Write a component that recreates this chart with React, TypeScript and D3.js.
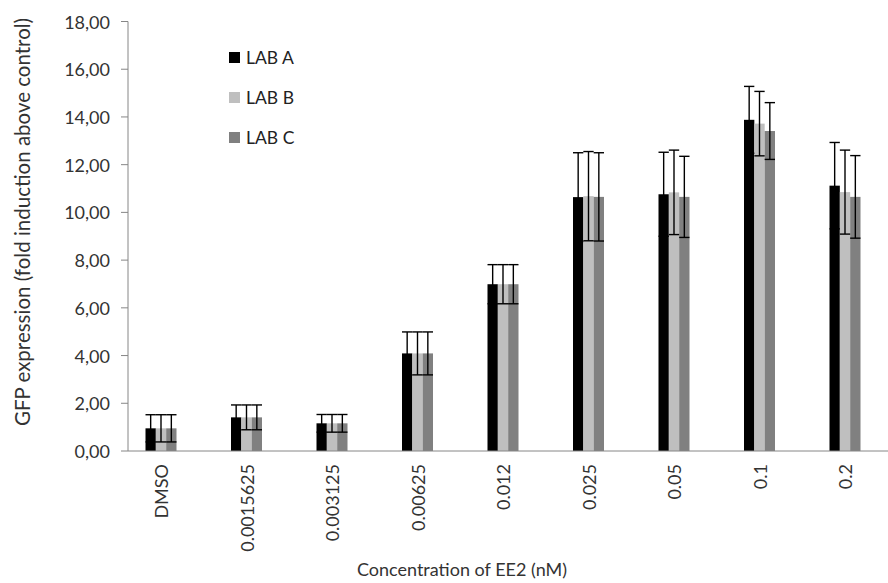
import React from "react";
import * as d3 from "d3";

// Concentrations of EE2 (nM) on the category axis
const categories = ["DMSO", "0.0015625", "0.003125", "0.00625", "0.012", "0.025", "0.05", "0.1", "0.2"];

// Mean fold induction per lab
const labA = [0.95, 1.41, 1.16, 4.09, 6.99, 10.64, 10.76, 13.88, 11.12];
const labB = [0.95, 1.41, 1.16, 4.09, 6.99, 10.68, 10.84, 13.72, 10.85];
const labC = [0.95, 1.41, 1.16, 4.09, 6.99, 10.65, 10.65, 13.41, 10.65];

// Standard deviations (symmetric error bars)
const errA = [0.57, 0.52, 0.37, 0.9, 0.82, 1.86, 1.76, 1.4, 1.81];
const errB = [0.57, 0.52, 0.37, 0.9, 0.82, 1.87, 1.77, 1.35, 1.76];
const errC = [0.57, 0.52, 0.37, 0.9, 0.82, 1.85, 1.7, 1.19, 1.73];

const seriesNames = ["LAB A", "LAB B", "LAB C"];
const seriesColors = ["#000000", "#bfbfbf", "#808080"];

const yTicks = [0, 2, 4, 6, 8, 10, 12, 14, 16, 18];

const W = 888;
const H = 583;
const axisX = 128;
const FONT = "Lato, 'Open Sans', sans-serif";

export default function App() {
  const values = [labA, labB, labC];
  const errors = [errA, errB, errC];

  const y = d3.scaleLinear().domain([0, 18]).range([451, 21.5]);
  const x = d3.scalePoint<string>().domain(categories).range([161, 845]);
  const inner = d3.scaleBand<string>().domain(seriesNames).range([-15.5, 15.5]).padding(0);
  const bw = inner.bandwidth();
  const fmt = (v: number) => d3.format(".2f")(v).replace(".", ",");

  return (
    <svg width={W} height={H} style={{ position: "absolute", left: 0, top: 0, background: "#fff" }}>
      <rect x={0} y={0} width={W} height={H} fill="#fff" />

      {/* y axis */}
      <line x1={axisX} x2={axisX} y1={y(18)} y2={y(0)} stroke="#868686" strokeWidth={1} />
      {yTicks.map((t) => (
        <g key={t}>
          <line x1={axisX - 7} x2={axisX} y1={y(t)} y2={y(t)} stroke="#868686" strokeWidth={1} />
          <text x={110} y={y(t)} textAnchor="end" dominantBaseline="central" fontFamily={FONT} fontSize={18} fill="#333">
            {fmt(t)}
          </text>
        </g>
      ))}

      {/* bars */}
      {values.map((vals, si) =>
        vals.map((v, ci) => (
          <rect
            key={`b${si}-${ci}`}
            x={(x(categories[ci]) as number) + (inner(seriesNames[si]) as number)}
            y={y(v)}
            width={bw}
            height={y(0) - y(v)}
            fill={seriesColors[si]}
          />
        ))
      )}

      {/* error bars */}
      {values.map((vals, si) =>
        vals.map((v, ci) => {
          const cx = (x(categories[ci]) as number) + (inner(seriesNames[si]) as number) + bw / 2;
          const e = errors[si][ci];
          const hi = y(v + e);
          const lo = y(v - e);
          const cap = bw / 2;
          return (
            <g key={`e${si}-${ci}`} stroke="#000" strokeWidth={1.4}>
              <line x1={cx} x2={cx} y1={hi} y2={lo} />
              <line x1={cx - cap} x2={cx + cap} y1={hi} y2={hi} />
              <line x1={cx - cap} x2={cx + cap} y1={lo} y2={lo} />
            </g>
          );
        })
      )}

      {/* x axis */}
      <line x1={axisX} x2={W} y1={y(0)} y2={y(0)} stroke="#868686" strokeWidth={1} />
      {categories.map((c) => (
        <text
          key={c}
          transform={`translate(${x(c)},${464}) rotate(-90)`}
          textAnchor="end"
          dominantBaseline="central"
          fontFamily={FONT}
          fontSize={18}
          fill="#333"
        >
          {c}
        </text>
      ))}

      {/* axis titles */}
      <text x={462} y={569} textAnchor="middle" dominantBaseline="central" fontFamily={FONT} fontSize={18} fill="#333">
        Concentration of EE2 (nM)
      </text>
      <text
        transform={`translate(${22},${222}) rotate(-90)`}
        textAnchor="middle"
        dominantBaseline="central"
        fontFamily={FONT}
        fontSize={20.5}
        fill="#333"
      >
        GFP expression (fold induction above control)
      </text>

      {/* legend */}
      {seriesNames.map((n, i) => (
        <g key={n} transform={`translate(229,${57.5 + i * 40})`}>
          <rect x={0} y={-5.5} width={11} height={11} fill={seriesColors[i]} />
          <text x={17} y={0} dominantBaseline="central" fontFamily={FONT} fontSize={17.5} fill="#222">
            {n}
          </text>
        </g>
      ))}
    </svg>
  );
}
